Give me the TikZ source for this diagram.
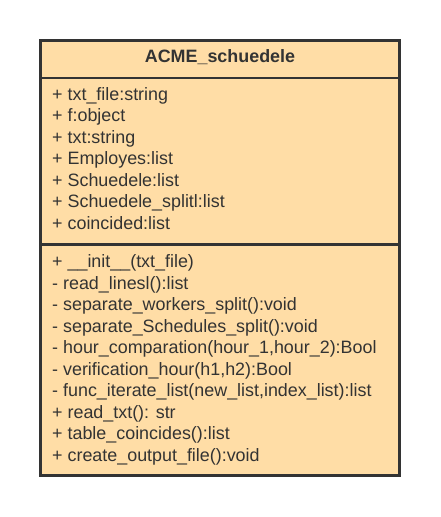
\documentclass[tikz,border=0pt]{standalone}
\usepackage{fontspec}
\setmainfont{Liberation Sans}
\definecolor{umlfill}{HTML}{FFDDA6}
\definecolor{umlline}{HTML}{333333}
\begin{document}
\begin{tikzpicture}[x=1pt,y=-1pt,
  member/.style={anchor=base west,inner sep=0pt,text=umlline,font=\fontsize{17.9}{21.5}\selectfont},
  titletext/.style={anchor=base,inner sep=0pt,text=umlline,font=\fontsize{17.9}{21.5}\selectfont\bfseries},
  border/.style={draw=umlline,line width=2.7pt}]
\useasboundingbox (0,0) rectangle (440,517);
\draw[border,fill=umlfill] (40.7,40.7) rectangle (399.5,475.3);
\draw[border] (40.7,78) -- (399.5,78);
\draw[border] (40.7,244.7) -- (399.5,244.7);
\node[titletext] (title) at (220,62.3) {ACME\_schuedele};
\foreach \t [count=\i] in {{+ txt\_file:string},{+ f:object},{+ txt:string},{+ Employes:list},{+ Schuedele:list},{+ Schuedele\_splitl:list},{+ coincided:list}}
  \node[member] (attr\i) at (52,{100+(\i-1)*21.5}) {\t};
\foreach \t [count=\i] in {{+ \_\_init\_\_(txt\_file)},{- read\_linesl():list},{- separate\_workers\_split():void},{- separate\_Schedules\_split():void},{- hour\_comparation(hour\_1,hour\_2):Bool},{- verification\_hour(h1,h2):Bool},{- func\_iterate\_list(new\_list,index\_list):list},{+ read\_txt(): str},{+ table\_coincides():list},{+ create\_output\_file():void}}
  \node[member] (meth\i) at (52,{267.7+(\i-1)*21.5}) {\t};
\end{tikzpicture}
\end{document}
